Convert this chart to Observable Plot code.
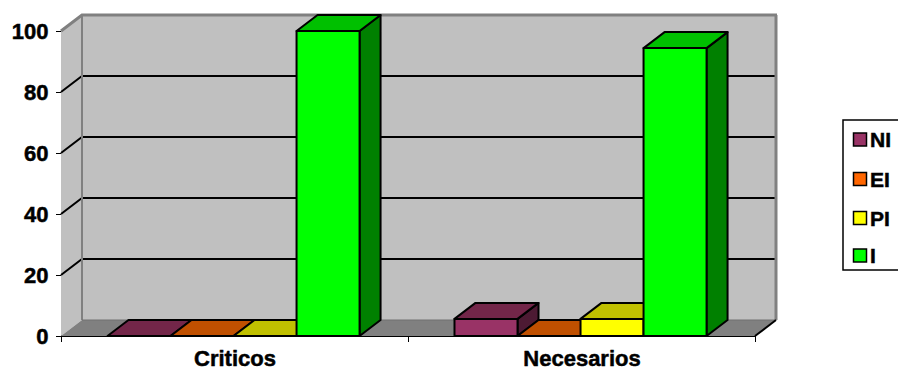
<!DOCTYPE html>
<html><head><meta charset="utf-8">
<script src="https://cdn.jsdelivr.net/npm/d3@7"></script>
<script src="https://cdn.jsdelivr.net/npm/@observablehq/plot@0.6"></script>
<style>
html,body{margin:0;padding:0;background:#fff;overflow:hidden;}
#chart{width:898px;height:370px;overflow:hidden;position:relative;}
#chart svg text{font-weight:bold;}
</style></head><body><div id="chart"></div>
<script>
const categories = ["Criticos", "Necesarios"];
const seriesNames = ["NI", "EI", "PI", "I"];
const valuesNI = [0, 5.6];
const valuesEI = [0, 0];
const valuesPI = [0, 5.6];
const valuesI = [100, 94.4];
const yTicks = [0, 20, 40, 60, 80, 100];
const frontColors = ["#993366", "#ff6600", "#ffff00", "#00ff00"];
const topColors = ["#732649", "#c05000", "#c0c000", "#00c000"];
const sideColors = ["#4d1a33", "#803300", "#808000", "#008000"];

const seriesValues = [valuesNI, valuesEI, valuesPI, valuesI];
const rows = [];
categories.forEach((c, ci) => seriesNames.forEach((s, si) =>
  rows.push({category: c, ci, series: s, si, value: seriesValues[si][ci]})));

const DX = 21, DY = -16;        // 3D depth offset (pixels)
const GAP = 0.134, BW = 0.1816; // bar layout within a category band

function poly(g, pts, fill, stroke, sw) {
  return g.append("path")
    .attr("d", "M" + pts.map(p => p.join(",")).join("L") + "Z")
    .attr("fill", fill)
    .attr("stroke", stroke || "none")
    .attr("stroke-width", sw || 0);
}
function pline(g, pts, stroke, sw) {
  return g.append("path")
    .attr("d", "M" + pts.map(p => p.join(",")).join("L"))
    .attr("fill", "none").attr("stroke", stroke).attr("stroke-width", sw);
}

function walls(index, scales) {
  const {x, y} = scales;
  const x0 = x(0), x1 = x(categories.length);
  const y0 = y(0), yTop = y(d3.max(yTicks));
  const g = d3.create("svg:g");
  poly(g, [[x0, y0], [x0 + DX, y0 + DY], [x0 + DX, yTop + DY], [x0, yTop]], "#c0c0c0");
  poly(g, [[x0 + DX, y0 + DY], [x1 + DX, y0 + DY], [x1 + DX, yTop + DY], [x0 + DX, yTop + DY]], "#c0c0c0");
  poly(g, [[x0, y0], [x1, y0], [x1 + DX, y0 + DY], [x0 + DX, y0 + DY]], "#808080");
  for (const t of yTicks) {
    if (t === 0 || t === d3.max(yTicks)) continue;
    pline(g, [[x0, y(t)], [x0 + DX, y(t) + DY], [x1 + DX, y(t) + DY]], "#000", 2);
  }
  pline(g, [[x0 + DX, y0 + DY], [x0 + DX, yTop + DY]], "#808080", 2);
  pline(g, [[x0, yTop], [x0 + DX, yTop + DY], [x1 + DX + 1, yTop + DY]], "#808080", 3);
  pline(g, [[x1 + DX, yTop + DY], [x1 + DX, y0 + DY]], "#808080", 3);
  pline(g, [[x0 + DX, y0 + DY], [x1 + DX, y0 + DY]], "#707070", 1);
  pline(g, [[x1, y0], [x1 + DX, y0 + DY]], "#000", 2);
  return g.node();
}

function bars(index, scales) {
  const {x, y} = scales;
  const g = d3.create("svg:g").attr("stroke", "#000").attr("stroke-width", 2).attr("stroke-linejoin", "round");
  for (const r of rows) {
    const a = x(r.ci + GAP + r.si * BW), b = x(r.ci + GAP + (r.si + 1) * BW);
    const yb = y(0), yt = y(r.value);
    poly(g, [[b, yb], [b + DX, yb + DY], [b + DX, yt + DY], [b, yt]], sideColors[r.si], "#000", 2);
    poly(g, [[a, yt], [b, yt], [b + DX, yt + DY], [a + DX, yt + DY]], topColors[r.si], "#000", 2);
    if (yb - yt > 0.5) poly(g, [[a, yt], [b, yt], [b, yb], [a, yb]], frontColors[r.si], "#000", 2);
  }
  return g.node();
}

function legend() {
  const g = d3.create("svg:g").attr("text-anchor", "start");
  g.append("rect").attr("x", 843).attr("y", 120).attr("width", 90).attr("height", 150)
    .attr("fill", "#fff").attr("stroke", "#000").attr("stroke-width", 1.5);
  const ys = [139.5, 179, 218, 255.5];
  seriesNames.forEach((s, i) => {
    g.append("rect").attr("x", 853.5).attr("y", ys[i] - 6.5).attr("width", 13).attr("height", 13)
      .attr("fill", frontColors[i]).attr("stroke", "#000").attr("stroke-width", 1.5);
    g.append("text").attr("x", 870).attr("y", ys[i]).attr("dy", "0.36em")
      .attr("font-size", 21).attr("font-weight", "bold").attr("fill", "#000")
      .attr("stroke", "#000").attr("stroke-width", 0.5).text(s);
  });
  return g.node();
}

const plot = Plot.plot({
  width: 898, height: 370,
  marginLeft: 61, marginRight: 143, marginTop: 31, marginBottom: 34,
  style: {background: "#fff", fontFamily: "'Liberation Sans', Arial, sans-serif", fontSize: "22px", fontWeight: "bold", color: "#000", overflow: "visible"},
  x: {domain: [0, categories.length], ticks: d3.range(categories.length + 1), tickFormat: () => "", tickSize: 6, line: true, label: null},
  y: {domain: [0, 100], ticks: yTicks, tickSize: 5, tickPadding: 8, line: true, label: null},
  marks: [
    walls,
    bars,
    Plot.text(categories, {x: (d, i) => i + 0.5, y: () => 0, text: d => d, dy: 22, fontSize: 22, fontWeight: "bold", fill: "#000", stroke: "#000", strokeWidth: 0.5}),
    legend
  ]
});
document.getElementById("chart").appendChild(plot);
d3.select(plot).selectAll("g[aria-label='y-axis tick label'] text, g[aria-label='y-axis tick label']")
  .attr("stroke", "#000").attr("stroke-width", 0.5);
</script></body></html>
